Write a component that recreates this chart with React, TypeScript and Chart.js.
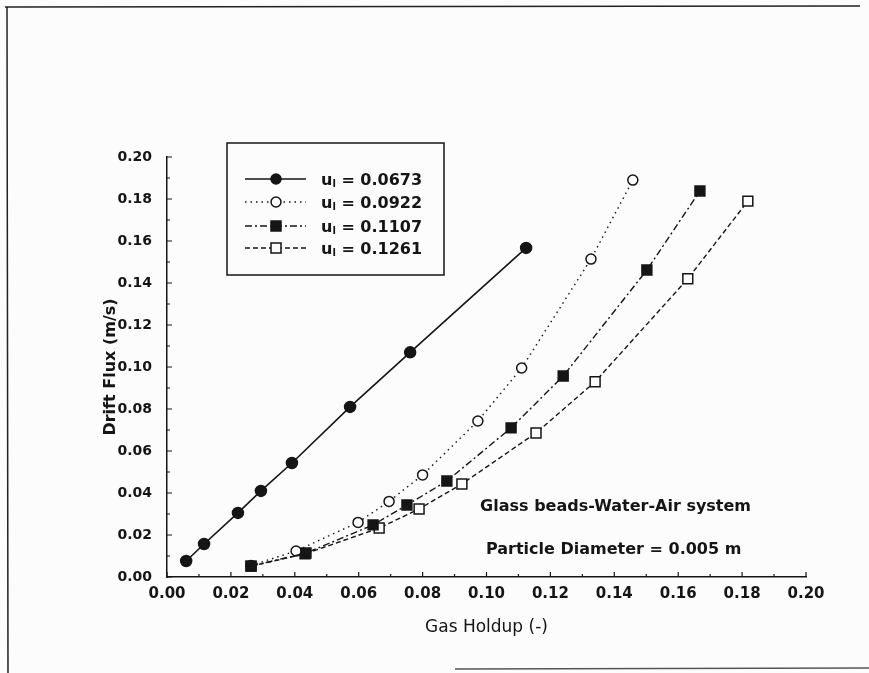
import React, { useEffect, useRef } from "react";
import { Chart, registerables } from "chart.js";

Chart.register(...registerables);

// ---- Data ----
const seriesLabels = ["0.0673", "0.0922", "0.1107", "0.1261"];

const holdup1 = [0.006, 0.0116, 0.0222, 0.0294, 0.0391, 0.0573, 0.0761, 0.1124];
const flux1 = [0.0076, 0.0157, 0.0305, 0.041, 0.0543, 0.081, 0.107, 0.1567];

const holdup2 = [0.0263, 0.0404, 0.0598, 0.0695, 0.08, 0.0973, 0.111, 0.1327, 0.1458];
const flux2 = [0.0055, 0.0124, 0.026, 0.036, 0.0486, 0.0743, 0.0995, 0.1514, 0.189];

const holdup3 = [0.0263, 0.0435, 0.0645, 0.0751, 0.0876, 0.1077, 0.124, 0.1502, 0.1668];
const flux3 = [0.0052, 0.0114, 0.0248, 0.0343, 0.0457, 0.071, 0.0957, 0.1462, 0.1838];

const holdup4 = [0.0263, 0.0432, 0.0664, 0.0789, 0.0923, 0.1155, 0.134, 0.163, 0.1818];
const flux4 = [0.0052, 0.011, 0.0233, 0.0324, 0.0443, 0.0686, 0.093, 0.142, 0.179];

const xTickMin = 0;
const xTickMax = 0.2;
const yTickMin = 0;
const yTickMax = 0.2;
const tickStep = 0.02;

const annotation1 = "Glass beads-Water-Air system";
const annotation2 = "Particle Diameter = 0.005 m";

const FONT = "'DejaVu Sans', 'Liberation Sans', Arial, sans-serif";
const INK = "#151515";
const PAPER = "#fcfcfc";

function toPoints(xs: number[], ys: number[]) {
  return xs.map((x, i) => ({ x, y: ys[i] }));
}

const styles = [
  { dash: [] as number[], point: "circle", filled: true, radius: 5.5, width: 1.6 },
  { dash: [1.5, 4], point: "circle", filled: false, radius: 5, width: 1.4 },
  { dash: [7, 3, 2, 3], point: "rect", filled: true, radius: 7, width: 1.4 },
  { dash: [5, 3], point: "rect", filled: false, radius: 7, width: 1.4 },
];

const framePlugin = {
  id: "frame",
  beforeDraw(chart: any) {
    const ctx = chart.ctx;
    ctx.save();
    ctx.fillStyle = PAPER;
    ctx.fillRect(0, 0, chart.width, chart.height);
    ctx.strokeStyle = "#222";
    ctx.lineWidth = 1.5;
    ctx.beginPath();
    ctx.moveTo(5, 7);
    ctx.lineTo(860, 6);
    ctx.moveTo(7, 7);
    ctx.lineTo(8, 673);
    ctx.stroke();
    ctx.strokeStyle = "#555";
    ctx.beginPath();
    ctx.moveTo(455, 669);
    ctx.lineTo(869, 668);
    ctx.stroke();
    ctx.restore();
  },
};

const ticksPlugin = {
  id: "inwardTicks",
  afterDraw(chart: any) {
    const ctx = chart.ctx;
    const xs = chart.scales.x;
    const ys = chart.scales.y;
    const area = chart.chartArea;
    ctx.save();
    ctx.strokeStyle = INK;
    ctx.lineWidth = 1.2;
    ctx.beginPath();
    const xt = xs.ticks.map((t: any) => t.value);
    xt.forEach((v: number, i: number) => {
      const p = xs.getPixelForValue(v);
      ctx.moveTo(p, area.bottom);
      ctx.lineTo(p, area.bottom - 5);
      if (i < xt.length - 1) {
        const m = xs.getPixelForValue((v + xt[i + 1]) / 2);
        ctx.moveTo(m, area.bottom);
        ctx.lineTo(m, area.bottom - 3);
      }
    });
    const yt = ys.ticks.map((t: any) => t.value);
    yt.forEach((v: number, i: number) => {
      const p = ys.getPixelForValue(v);
      ctx.moveTo(area.left, p);
      ctx.lineTo(area.left + 5, p);
      if (i < yt.length - 1) {
        const m = ys.getPixelForValue((v + yt[i + 1]) / 2);
        ctx.moveTo(area.left, m);
        ctx.lineTo(area.left + 3, m);
      }
    });
    ctx.stroke();

    // annotations
    ctx.fillStyle = INK;
    ctx.font = `bold 16px ${FONT}`;
    ctx.textAlign = "center";
    ctx.textBaseline = "middle";
    ctx.fillText(annotation1, xs.getPixelForValue(0.1404), ys.getPixelForValue(0.0333));
    ctx.fillText(annotation2, xs.getPixelForValue(0.1398), ys.getPixelForValue(0.0129));

    // legend box
    const bx = 227, by = 143, bw = 217, bh = 132;
    ctx.strokeStyle = INK;
    ctx.lineWidth = 1.5;
    ctx.strokeRect(bx, by, bw, bh);
    const rows = [179, 202, 226, 248];
    chart.data.datasets.forEach((ds: any, i: number) => {
      const st = styles[i];
      const y = rows[i];
      ctx.save();
      ctx.strokeStyle = INK;
      ctx.lineWidth = st.width;
      ctx.setLineDash(st.dash);
      ctx.beginPath();
      ctx.moveTo(245, y);
      ctx.lineTo(306, y);
      ctx.stroke();
      ctx.restore();
      ctx.save();
      ctx.fillStyle = st.filled ? INK : PAPER;
      ctx.strokeStyle = INK;
      ctx.lineWidth = 1.5;
      ctx.beginPath();
      if (st.point === "circle") {
        ctx.arc(276, y, 5, 0, Math.PI * 2);
      } else {
        ctx.rect(271, y - 5, 10, 10);
      }
      ctx.fill();
      ctx.stroke();
      ctx.restore();
      // label: u_l = value
      ctx.fillStyle = INK;
      ctx.textAlign = "left";
      ctx.textBaseline = "alphabetic";
      ctx.font = `bold 16px ${FONT}`;
      const base = y + 6;
      ctx.fillText("u", 321, base);
      const uw = ctx.measureText("u").width;
      ctx.font = `bold 10px ${FONT}`;
      ctx.fillText("l", 321 + uw, base + 2);
      const lw = ctx.measureText("l").width;
      ctx.font = `bold 16px ${FONT}`;
      ctx.fillText(" = " + seriesLabels[i], 321 + uw + lw, base);
    });
    ctx.restore();
  },
};

export default function App() {
  const ref = useRef<HTMLCanvasElement | null>(null);
  useEffect(() => {
    if (!ref.current) return;
    const sets = [
      toPoints(holdup1, flux1),
      toPoints(holdup2, flux2),
      toPoints(holdup3, flux3),
      toPoints(holdup4, flux4),
    ];
    const orders = [1, 2, 0, 3];
    const chart = new Chart(ref.current, {
      type: "scatter",
      data: {
        datasets: sets.map((data, i) => ({
          label: "u_l = " + seriesLabels[i],
          data,
          showLine: true,
          order: orders[i],
          borderColor: INK,
          borderWidth: styles[i].width,
          borderDash: styles[i].dash,
          pointStyle: styles[i].point,
          pointRadius: styles[i].radius,
          pointBorderWidth: 1.5,
          pointBackgroundColor: styles[i].filled ? INK : PAPER,
          pointBorderColor: INK,
          tension: 0,
        })),
      },
      options: {
        responsive: false,
        animation: false,
        events: [],
        layout: { padding: { left: 0, top: 157, right: 63, bottom: 0 } },
        plugins: {
          legend: { display: false },
          tooltip: { enabled: false },
        },
        scales: {
          x: {
            type: "linear",
            min: xTickMin,
            max: xTickMax,
            grid: { display: false, drawTicks: false },
            border: { display: true, color: INK, width: 1.5 },
            ticks: {
              stepSize: tickStep,
              padding: 8,
              color: INK,
              font: { family: FONT, size: 15, weight: "bold" },
              maxRotation: 0,
              callback: (v: any) => Number(v).toFixed(2),
            },
            title: {
              display: true,
              text: "Gas Holdup (-)",
              color: INK,
              font: { family: FONT, size: 17 },
              padding: { top: 0, bottom: 35 },
            },
            afterFit: (s: any) => {
              s.height = 96;
            },
          },
          y: {
            type: "linear",
            min: yTickMin,
            max: yTickMax,
            grid: { display: false, drawTicks: false },
            border: { display: true, color: INK, width: 1.5 },
            ticks: {
              stepSize: tickStep,
              padding: 15,
              color: INK,
              font: { family: FONT, size: 14, weight: "bold" },
              callback: (v: any) => Number(v).toFixed(2),
            },
            title: {
              display: true,
              text: "Drift Flux (m/s)",
              color: INK,
              font: { family: FONT, size: 16, weight: "bold" },
              padding: { top: 101, bottom: 0 },
            },
            afterFit: (s: any) => {
              s.width = 167;
            },
          },
        },
      },
      plugins: [framePlugin, ticksPlugin],
    });
    return () => chart.destroy();
  }, []);
  return (
    <div style={{ position: "fixed", left: 0, top: 0, width: 869, height: 673 }}>
      <canvas ref={ref} width={869} height={673} style={{ display: "block" }} />
    </div>
  );
}
